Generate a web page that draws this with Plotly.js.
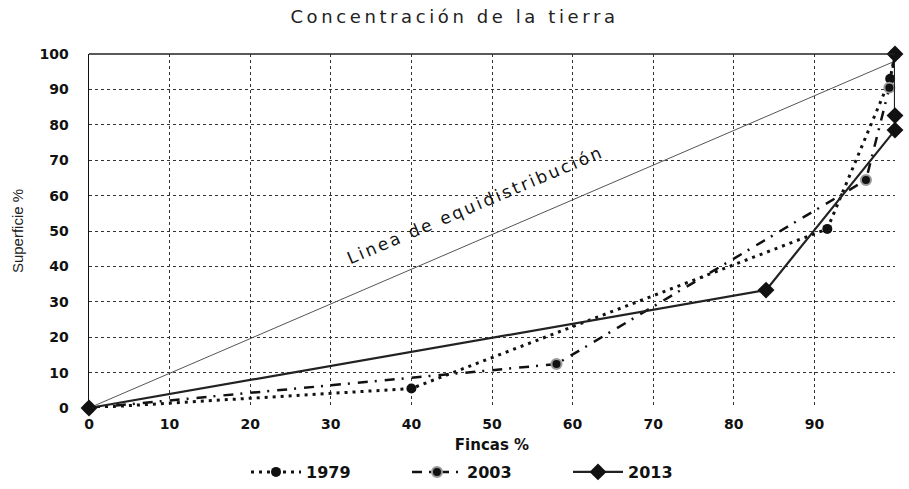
<!DOCTYPE html>
<html>
<head>
<meta charset="utf-8">
<script src="https://cdn.plot.ly/plotly-3.0.1.min.js"></script>
<style>html,body{margin:0;padding:0;background:#fff}#chart{width:909px;height:489px}</style>
</head>
<body>
<div id="chart"></div>
<script>
// Data (Fincas % vs Superficie %)
const equiX = [0, 100];
const equiY = [0, 98];

const x1979 = [0, 40, 91.6, 99.4, 100];
const y1979 = [0, 5.5, 50.6, 93.0, 100];

const x2003 = [0, 58, 96.4, 99.3, 100];
const y2003 = [0, 12.4, 64.4, 90.5, 100];

const x2013 = [0, 84, 100, 100, 100];
const y2013 = [0, 33.3, 78.5, 82.6, 100];

const tickVals = [0, 10, 20, 30, 40, 50, 60, 70, 80, 90, 100];

const traces = [
  {x: equiX, y: equiY, mode: 'lines', showlegend: false, hoverinfo: 'skip',
   line: {color: '#555', width: 1}},
  {x: x1979, y: y1979, name: '1979', mode: 'lines+markers',
   line: {color: '#111', width: 3, dash: '3px,5px'},
   marker: {symbol: 'circle', size: 10, color: '#111'}},
  {x: x2003, y: y2003, name: '2003', mode: 'lines+markers',
   line: {color: '#111', width: 2.5, dash: '10px,7px,2px,8px'},
   marker: {symbol: 'circle', size: 10, color: '#111', line: {color: '#999', width: 2}}},
  {x: x2013, y: y2013, name: '2013', mode: 'lines+markers',
   line: {color: '#222', width: 2.2},
   marker: {symbol: 'diamond', size: 13, color: '#111'}}
];
traces.forEach(t => { t.cliponaxis = false; });

const tickFont = {family: 'DejaVu Sans', size: 14, color: '#111', weight: 'bold'};

const layout = {
  width: 909, height: 489,
  margin: {l: 89, r: 14, t: 54, b: 81},
  paper_bgcolor: '#fff', plot_bgcolor: '#fff',
  title: {
    text: '<span style="letter-spacing:3.6px">Concentración de la tierra</span>',
    font: {family: 'DejaVu Sans', size: 18, color: '#222'},
    x: 0.5, xref: 'container', xanchor: 'center',
    y: 1 - 17 / 489, yref: 'container', yanchor: 'middle'
  },
  xaxis: {
    range: [0, 100], tickmode: 'array', tickvals: tickVals,
    showgrid: true, gridcolor: '#333', griddash: 'dot', gridwidth: 1,
    zeroline: false, showline: false, ticks: '',
    tickfont: tickFont, ticklabelstandoff: 6,
    title: {text: 'Fincas %', font: {family: 'DejaVu Sans', size: 15, weight: 'bold', color: '#111'}, standoff: 8}
  },
  yaxis: {
    range: [0, 100], tickmode: 'array', tickvals: tickVals,
    showgrid: true, gridcolor: '#333', griddash: 'dot', gridwidth: 1,
    zeroline: false, showline: true, linecolor: '#111', linewidth: 1.5, ticks: '',
    tickfont: tickFont, ticklabelstandoff: 16,
    title: {text: 'Superficie %', font: {family: 'Liberation Sans Narrow, Liberation Sans, Arial', size: 15, color: '#222'}, standoff: 12}
  },
  legend: {
    orientation: 'h', xref: 'container', yref: 'container',
    x: 246 / 909, xanchor: 'left', y: -5 / 489, yanchor: 'bottom',
    font: {family: 'DejaVu Sans', size: 16, color: '#111', weight: 'bold'},
    itemwidth: 50, entrywidth: 96, entrywidthmode: 'pixels', tracegroupgap: 0
  },
  shapes: [
    {type: 'line', xref: 'paper', yref: 'paper', x0: 0, x1: 1, y0: 1, y1: 1,
     line: {color: '#222', width: 1.5}}
  ],
  annotations: [
    {x: 47.9, y: 57.3, xref: 'x', yref: 'y', showarrow: false, textangle: -23,
     text: '<span style="letter-spacing:2.5px">Linea de equidistribución</span>',
     font: {family: 'DejaVu Sans', size: 17, color: '#111'}}
  ]
};

Plotly.newPlot('chart', traces, layout, {displayModeBar: false, staticPlot: true});
</script>
</body>
</html>
